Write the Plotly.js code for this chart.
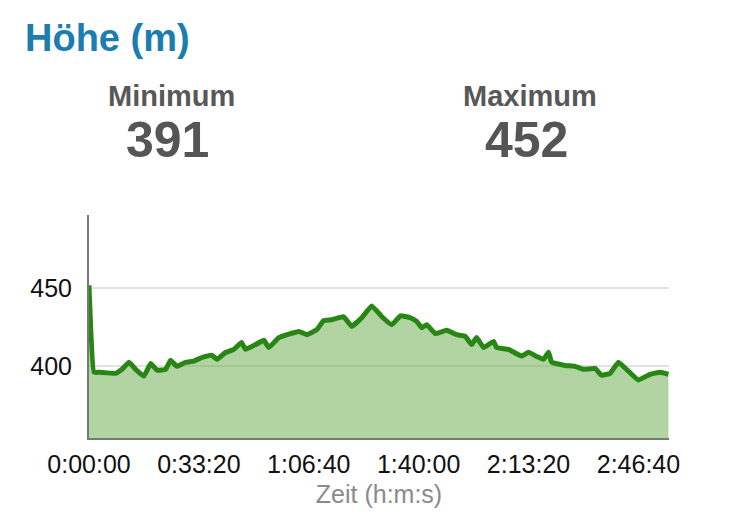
<!DOCTYPE html>
<html>
<head>
<meta charset="utf-8">
<script src="https://cdn.plot.ly/plotly-3.0.1.min.js"></script>
<style>
html,body{margin:0;padding:0;background:#fff;}
#chart{width:750px;height:523px;}
</style>
</head>
<body>
<div id="chart"></div>
<script>
// elapsed time in seconds
const timeSec = [0,91,182,485,600,727,849,1000,1122,1236,1395,1485,1600,1758,1909,2055,2236,2327,2485,2636,2776,2849,3031,3182,3273,3455,3818,3964,4145,4273,4418,4636,4782,4964,5145,5327,5509,5667,5849,5964,6055,6145,6303,6509,6691,6849,6964,7055,7182,7364,7418,7636,7873,8000,8145,8273,8364,8418,8667,8849,9000,9212,9327,9485,9636,9782,10000,10212,10394,10545];
// elevation in metres
const elevation = [452,396,396,395.3,397.9,402.4,397.9,393.5,401.7,397.4,397.9,403.8,399.8,402.4,403.2,405.5,407,404.3,408.7,410.7,415.1,410.7,413.8,416.6,411.9,418.3,422.3,420.2,423.4,429.3,429.8,431.7,425.5,431.1,438.7,431.9,426.6,432.3,431.1,428.7,424.7,426.6,420.9,423,420.2,419.1,413.8,418.3,411.9,415.9,411.9,410.7,406.4,408.9,406.2,404.3,408.9,402.6,400.4,399.8,397.9,398.5,394.1,395.3,402.4,397.9,391,394.7,396,394.7];
const xTickVals = [0,2000,4000,6000,8000,10000];
const xTickText = ["0:00:00","0:33:20","1:06:40","1:40:00","2:13:20","2:46:40"];
const yTickVals = [400,450];
const statLabels = ["Minimum","Maximum"];
const statValues = ["391","452"];

const trace = {
  x: timeSec,
  y: elevation,
  type: 'scatter',
  mode: 'lines',
  fill: 'tozeroy',
  fillcolor: 'rgba(100,170,70,0.5)',
  line: {color: 'rgb(40,135,20)', width: 5, shape: 'spline', smoothing: 0.3},
  hoverinfo: 'skip'
};

// plot area: x 89..669 px, y 215..438 px
const statLabelX = [0.143, 0.760];
const statValueX = [0.136, 0.754];
const annotations = [];
statLabels.forEach((lab, i) => {
  annotations.push({xref:'paper', yref:'paper', x: statLabelX[i], y: (438 - 96) / 223, yanchor:'middle', xanchor:'center',
    text: '<b>' + lab + '</b>', showarrow:false, font:{family:'Liberation Sans, Arial, sans-serif', size:29, color:'#585858'}});
  annotations.push({xref:'paper', yref:'paper', x: statValueX[i], y: (438 - 140) / 223, yanchor:'middle', xanchor:'center',
    text: '<b>' + statValues[i] + '</b>', showarrow:false, font:{family:'Liberation Sans, Arial, sans-serif', size:50, color:'#555'}});
});

const layout = {
  width: 750, height: 523,
  margin: {l: 89, r: 81, t: 215, b: 85},
  paper_bgcolor: '#fff', plot_bgcolor: '#fff',
  showlegend: false,
  title: {text: '<b>Höhe (m)</b>', x: 25/750, xref:'container', xanchor:'left', y: 1 - 38/523, yref:'container', yanchor:'middle',
    font: {family:'Liberation Sans, Arial, sans-serif', size: 38, color: '#1b7db0'}},
  xaxis: {
    range: [0, 10556], tickvals: xTickVals, ticktext: xTickText, showgrid: false, zeroline: false,
    showline: true, linecolor: '#6f7f6a', linewidth: 2, ticks: '', ticklabelstandoff: 3,
    tickfont: {family:'Liberation Sans, Arial, sans-serif', size: 25, color: '#111'},
    title: {text: 'Zeit (h:m:s)', standoff: 8, font: {family:'Liberation Sans, Arial, sans-serif', size: 25, color: '#8a8a8a'}}
  },
  yaxis: {
    range: [353.7, 497.2], tickvals: yTickVals, showgrid: true, gridcolor: '#e2e2e2', gridwidth: 2,
    zeroline: false, showline: true, linecolor: '#777', linewidth: 2, ticks: '', ticklabelstandoff: 10,
    tickfont: {family:'Liberation Sans, Arial, sans-serif', size: 25, color: '#111'}
  },
  annotations: annotations
};

Plotly.newPlot('chart', [trace], layout, {displayModeBar: false, staticPlot: true});
</script>
</body>
</html>
